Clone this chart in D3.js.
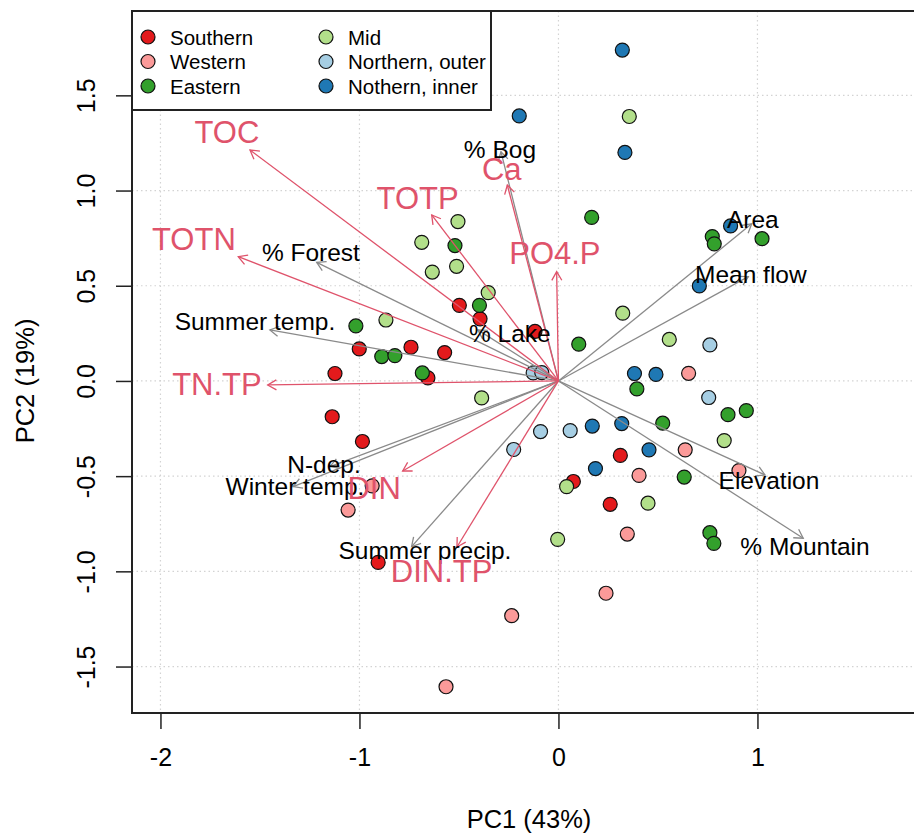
<!DOCTYPE html>
<html>
<head>
<meta charset="utf-8">
<script src="https://cdn.jsdelivr.net/npm/d3@7"></script>
<style>
  html, body { margin: 0; padding: 0; background: #fff; overflow: hidden; }
  svg { display: block; font-family: "Liberation Sans", Arial, Helvetica, sans-serif; }
</style>
</head>
<body>
<svg id="chart" width="914" height="834"></svg>
<script>
// Region groups and their fill colours (ColorBrewer "Paired")
const groups = ["Southern", "Western", "Eastern", "Mid", "Northern, outer", "Nothern, inner"];
const groupColors = ["#E31A1C", "#FB9A99", "#33A02C", "#B2DF8A", "#A6CEE3", "#1F78B4"];

// Site scores on PC1 / PC2, one pair of arrays per region
const southernPC1 = [-0.498, -0.394, -0.118, -1.001, -0.741, -0.572, -1.123, -0.656, -1.137, -0.985, -0.906, 0.311, 0.075, 0.260];
const southernPC2 = [0.397, 0.326, 0.260, 0.168, 0.177, 0.149, 0.039, 0.016, -0.188, -0.318, -0.953, -0.391, -0.528, -0.648];
const westernPC1 = [-0.936, -1.057, -0.565, -0.235, 0.239, 0.346, 0.405, 0.637, 0.654, 0.907];
const westernPC2 = [-0.551, -0.678, -1.606, -1.233, -1.115, -0.804, -0.496, -0.362, 0.040, -0.471];
const easternPC1 = [0.167, 0.773, 0.783, 1.023, 0.102, 0.394, 0.852, 0.944, 0.524, 0.632, 0.761, 0.781, -0.520, -0.397, -1.018, -0.888, -0.822, -0.684];
const easternPC2 = [0.859, 0.758, 0.720, 0.747, 0.193, -0.042, -0.177, -0.156, -0.222, -0.505, -0.797, -0.853, 0.711, 0.397, 0.289, 0.128, 0.133, 0.042];
const midPC1 = [0.356, -0.505, -0.687, -0.512, -0.634, -0.353, -0.867, 0.323, 0.557, -0.386, 0.833, 0.450, 0.041, -0.004];
const midPC2 = [1.389, 0.837, 0.728, 0.602, 0.572, 0.464, 0.320, 0.356, 0.218, -0.089, -0.313, -0.642, -0.555, -0.832];
const northOuterPC1 = [-0.127, -0.084, -0.090, 0.059, -0.225, 0.761, 0.755];
const northOuterPC2 = [0.042, 0.044, -0.266, -0.261, -0.360, 0.189, -0.087];
const northInnerPC1 = [0.321, -0.197, 0.334, 0.865, 0.708, 0.382, 0.490, 0.170, 0.318, 0.455, 0.186];
const northInnerPC2 = [1.738, 1.392, 1.200, 0.814, 0.499, 0.039, 0.034, -0.237, -0.224, -0.362, -0.460];

// Water chemistry loadings (arrow tips) and their label anchors
const chemVars = ["TOC", "TOTN", "TN.TP", "TOTP", "Ca", "PO4.P", "DIN", "DIN.TP"];
const chemPC1 = [-1.550, -1.609, -1.461, -0.637, -0.257, -0.009, -0.783, -0.510];
const chemPC2 = [1.213, 0.653, -0.021, 0.872, 1.029, 0.574, -0.473, -0.872];
const chemLabelPC1 = [-1.666, -1.832, -1.716, -0.708, -0.285, -0.018, -0.926, -0.587];
const chemLabelPC2 = [1.303, 0.741, -0.021, 0.960, 1.112, 0.667, -0.564, -1.002];

// Catchment / climate loadings and their label anchors
const envVars = ["% Bog", "% Forest", "Summer temp.", "% Lake", "N-dep.", "Winter temp.", "Summer precip.", "Elevation", "% Mountain", "Area", "Mean flow"];
const envPC1 = [-0.289, -1.215, -1.450, -0.405, -1.148, -1.333, -0.738, 1.038, 1.230, 0.971, 0.954];
const envPC2 = [1.204, 0.623, 0.268, 0.268, -0.450, -0.555, -0.870, -0.494, -0.826, 0.825, 0.548];
const envLabelPC1 = [-0.294, -1.244, -1.525, -0.244, -1.178, -1.324, -0.671, 1.058, 1.239, 0.977, 0.967];
const envLabelPC2 = [1.213, 0.672, 0.310, 0.247, -0.441, -0.557, -0.893, -0.525, -0.867, 0.846, 0.557];

// Axis ticks and titles
const xTicks = [-2, -1, 0, 1];
const yTicks = [-1.5, -1.0, -0.5, 0.0, 0.5, 1.0, 1.5];
const xTitle = "PC1 (43%)";
const yTitle = "PC2 (19%)";

// ---------------------------------------------------------------
const svg = d3.select("#chart");
// plotting region; the right-hand side runs past the page edge
const plot = { left: 132, top: 11, right: 926, bottom: 713 };
const pageRight = 914;

const x = d3.scaleLinear().domain([-2.143, 1.847]).range([plot.left, plot.right]);
const y = d3.scaleLinear().domain([-1.744, 1.943]).range([plot.bottom, plot.top]);

// tick labels use a plain hyphen for negatives
const locale = d3.formatLocale({ decimal: ".", thousands: ",", grouping: [3], currency: ["", ""], minus: "-" });

const chemColor = "#DF536B";
const envColor = "#8a8a8a";

svg.append("defs").append("clipPath").attr("id", "plotClip")
  .append("rect")
  .attr("x", plot.left).attr("y", plot.top)
  .attr("width", pageRight - plot.left).attr("height", plot.bottom - plot.top);

// dotted reference grid
const grid = svg.append("g").attr("clip-path", "url(#plotClip)");
grid.selectAll("line.vx").data(xTicks).join("line")
  .attr("x1", d => x(d)).attr("x2", d => x(d))
  .attr("y1", plot.top).attr("y2", plot.bottom)
  .attr("stroke", "#d3d3d3").attr("stroke-width", 1.2).attr("stroke-dasharray", "1.5,3");
grid.selectAll("line.hy").data(yTicks).join("line")
  .attr("y1", d => y(d)).attr("y2", d => y(d))
  .attr("x1", plot.left).attr("x2", pageRight)
  .attr("stroke", "#d3d3d3").attr("stroke-width", 1.2).attr("stroke-dasharray", "1.5,3");

// site points
const sites = [];
const pc1Sets = [southernPC1, westernPC1, easternPC1, midPC1, northOuterPC1, northInnerPC1];
const pc2Sets = [southernPC2, westernPC2, easternPC2, midPC2, northOuterPC2, northInnerPC2];
pc1Sets.forEach((arr, g) => arr.forEach((v, i) => sites.push({ g, pc1: v, pc2: pc2Sets[g][i] })));

svg.append("g").attr("clip-path", "url(#plotClip)")
  .selectAll("circle").data(sites).join("circle")
  .attr("cx", d => x(d.pc1)).attr("cy", d => y(d.pc2)).attr("r", 7)
  .attr("fill", d => groupColors[d.g])
  .attr("stroke", "#111").attr("stroke-width", 1.2);

// loading arrows with open heads
function drawArrows(names, px, py, color) {
  const g = svg.append("g").attr("fill", "none").attr("stroke", color).attr("stroke-width", 1.3);
  names.forEach((name, i) => {
    const x0 = x(0), y0 = y(0), x1 = x(px[i]), y1 = y(py[i]);
    const ang = Math.atan2(y1 - y0, x1 - x0);
    const len = 10, spread = Math.PI / 6;
    g.append("line").attr("x1", x0).attr("y1", y0).attr("x2", x1).attr("y2", y1);
    const hx1 = x1 - len * Math.cos(ang - spread), hy1 = y1 - len * Math.sin(ang - spread);
    const hx2 = x1 - len * Math.cos(ang + spread), hy2 = y1 - len * Math.sin(ang + spread);
    g.append("path").attr("d", `M${hx1},${hy1}L${x1},${y1}L${hx2},${hy2}`);
  });
}
drawArrows(envVars, envPC1, envPC2, envColor);
drawArrows(chemVars, chemPC1, chemPC2, chemColor);

// loading labels
svg.append("g").selectAll("text").data(envVars).join("text")
  .attr("x", (d, i) => x(envLabelPC1[i])).attr("y", (d, i) => y(envLabelPC2[i]))
  .attr("text-anchor", "middle").attr("dominant-baseline", "central")
  .attr("font-size", 24.5).attr("fill", "#000").text(d => d);
svg.append("g").selectAll("text").data(chemVars).join("text")
  .attr("x", (d, i) => x(chemLabelPC1[i])).attr("y", (d, i) => y(chemLabelPC2[i]))
  .attr("text-anchor", "middle").attr("dominant-baseline", "central")
  .attr("font-size", 31).attr("fill", chemColor).text(d => d);

// frame: left, top and bottom edges (the right edge falls off the page)
svg.append("path")
  .attr("d", `M${pageRight + 5},${plot.top}H${plot.left}V${plot.bottom}H${pageRight + 5}`)
  .attr("fill", "none").attr("stroke", "#222").attr("stroke-width", 2);

// axes
const xAxis = svg.append("g").attr("transform", `translate(0,${plot.bottom})`)
  .call(d3.axisBottom(x).tickValues(xTicks).tickSize(16).tickSizeOuter(0).tickPadding(19).tickFormat(locale.format("d")));
xAxis.select(".domain").remove();
xAxis.selectAll("line").attr("stroke", "#222").attr("stroke-width", 1.5);
xAxis.selectAll("text").attr("font-size", 25).attr("fill", "#000").attr("font-family", null);

const yAxis = svg.append("g").attr("transform", `translate(${plot.left},0)`)
  .call(d3.axisLeft(y).tickValues(yTicks).tickSize(16).tickSizeOuter(0).tickFormat(locale.format(".1f")));
yAxis.select(".domain").remove();
yAxis.selectAll("line").attr("stroke", "#222").attr("stroke-width", 1.5);
yAxis.selectAll("text")
  .attr("font-size", 25).attr("fill", "#000").attr("font-family", null)
  .attr("x", null).attr("dy", null)
  .attr("text-anchor", "middle")
  .attr("transform", "translate(-37,0) rotate(-90)")
  .attr("y", 0);

svg.append("text")
  .attr("x", (plot.left + plot.right) / 2).attr("y", 828)
  .attr("text-anchor", "middle").attr("font-size", 25.5).text(xTitle);
svg.append("text")
  .attr("transform", `translate(34,${y(0)}) rotate(-90)`)
  .attr("text-anchor", "middle").attr("font-size", 25.5).text(yTitle);

// legend
const lg = svg.append("g");
lg.append("rect").attr("x", plot.left).attr("y", plot.top)
  .attr("width", 359).attr("height", 99)
  .attr("fill", "#fff").attr("stroke", "#222").attr("stroke-width", 2);
groups.forEach((name, i) => {
  const col = Math.floor(i / 3), row = i % 3;
  const cx = 148 + col * 178, cy = 37 + row * 24.5;
  lg.append("circle").attr("cx", cx).attr("cy", cy).attr("r", 7)
    .attr("fill", groupColors[i]).attr("stroke", "#111").attr("stroke-width", 1.2);
  lg.append("text").attr("x", cx + 22).attr("y", cy).attr("dominant-baseline", "central")
    .attr("font-size", 20.5).text(name);
});
</script>
</body>
</html>
